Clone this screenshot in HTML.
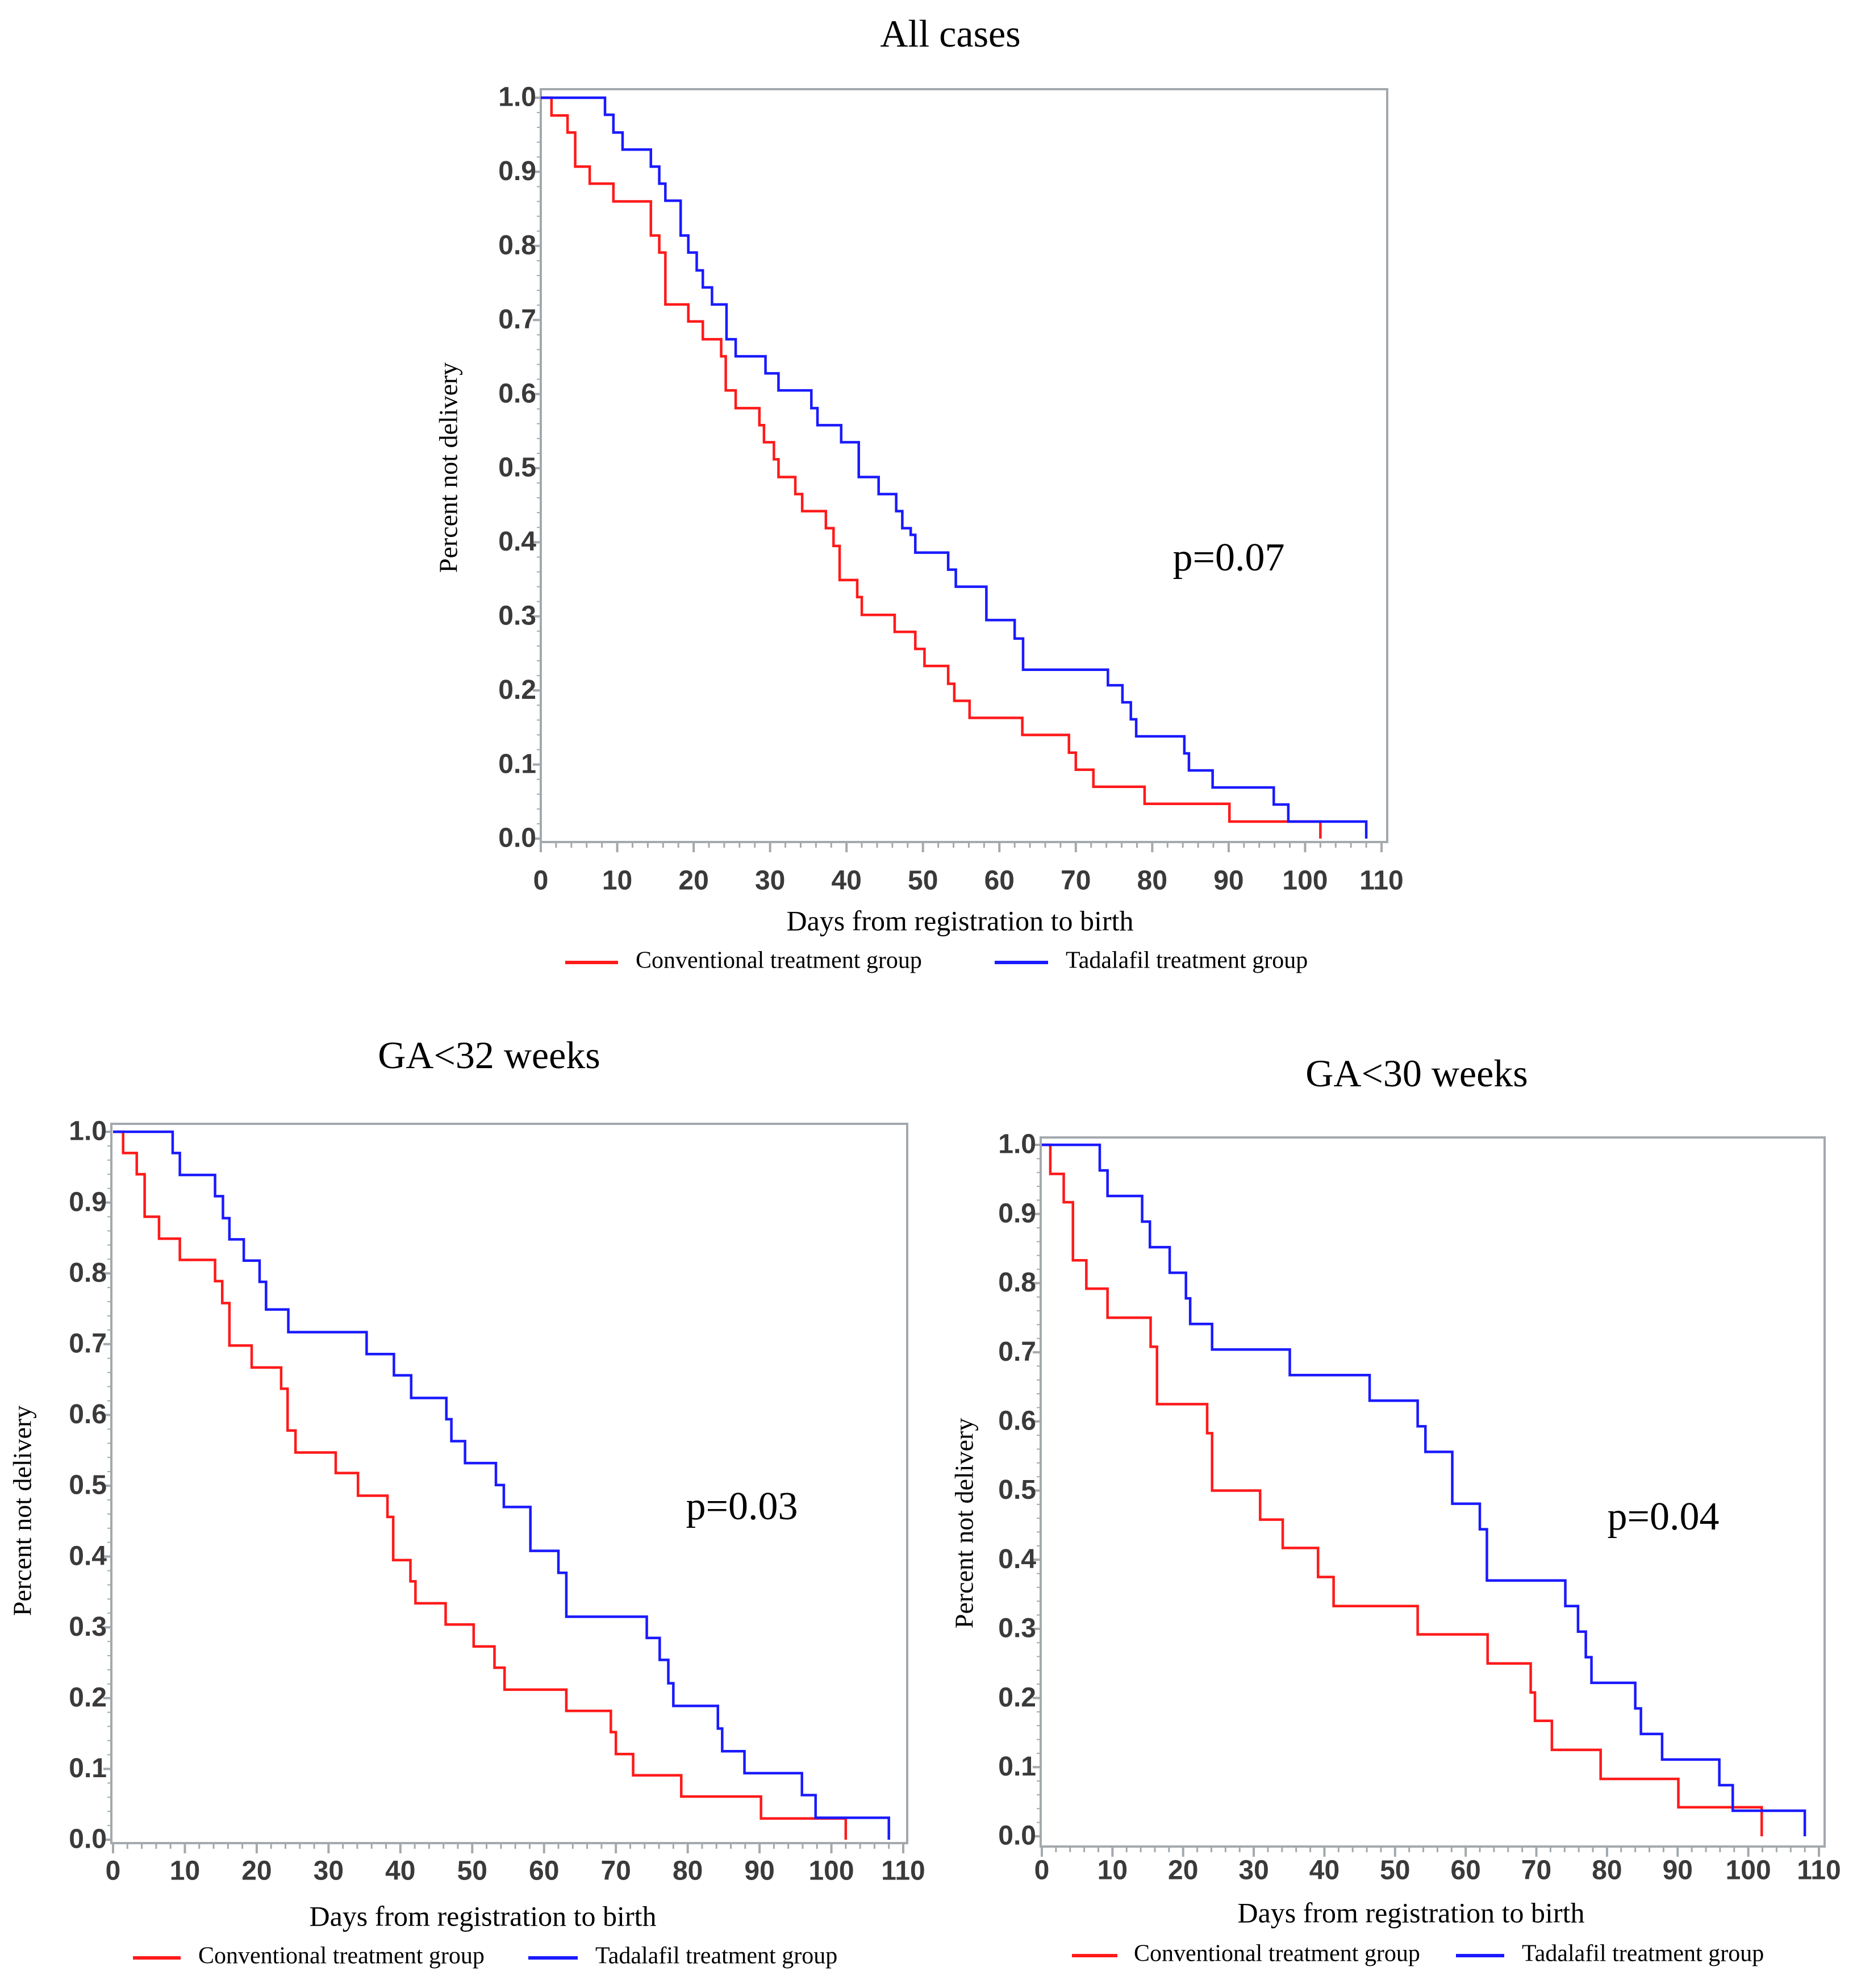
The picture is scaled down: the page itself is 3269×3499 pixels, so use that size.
<!DOCTYPE html>
<html><head><meta charset="utf-8"><style>
html,body{margin:0;padding:0;background:#fff;}
svg{display:block;}
.tick{font-family:"Liberation Sans",Arial,sans-serif;font-size:48px;fill:#3a3a3a;font-weight:bold;}
.ser{font-family:"Liberation Serif","Times New Roman",serif;fill:#000;}
</style></head><body>
<svg id="root" xmlns="http://www.w3.org/2000/svg" width="3269" height="3499" viewBox="0 0 3269 3499">
<rect width="3269" height="3499" fill="#fff"/>
</svg>
<script>
// ---- data ----
const xTicks = [0,10,20,30,40,50,60,70,80,90,100,110];
const yTicks = [0.0,0.1,0.2,0.3,0.4,0.5,0.6,0.7,0.8,0.9,1.0];

const allRedT = [1.4,3.5,4.5,6.4,9.5,14.4,15.5,16.3,19.3,21.2,23.6,24.2,25.5,28.6,29.2,30.5,31.1,33.3,34.2,37.3,38.3,39.1,41.4,42,46.3,49,50.2,53.3,54.1,56.1,63,69.1,70,72.3,79,90.1,102];
const allRedV = [0.976,0.953,0.907,0.884,0.860,0.814,0.791,0.721,0.698,0.674,0.651,0.605,0.581,0.558,0.535,0.512,0.488,0.465,0.442,0.419,0.395,0.349,0.326,0.302,0.279,0.256,0.233,0.209,0.186,0.163,0.140,0.116,0.093,0.070,0.047,0.023,0];
const allBlueT = [8.4,9.5,10.7,14.4,15.5,16.3,18.3,19.3,20.4,21.2,22.4,24.3,25.5,29.4,31.1,35.4,36.2,39.3,41.6,44.2,46.5,47.3,48.4,49,53.3,54.3,58.3,62,63.1,74.2,76.1,77.2,77.9,84.2,84.8,87.9,95.9,97.8,108];
const allBlueV = [0.977,0.953,0.930,0.907,0.884,0.861,0.814,0.791,0.767,0.744,0.721,0.674,0.651,0.628,0.605,0.581,0.558,0.535,0.488,0.465,0.442,0.419,0.410,0.386,0.363,0.340,0.295,0.270,0.228,0.207,0.184,0.161,0.138,0.115,0.092,0.069,0.046,0.023,0];

const g32RedT = [1.4,3.3,4.4,6.4,9.3,14.2,15.2,16.2,19.3,23.4,24.3,25.4,31,34.1,38.2,39,41.4,42.1,46.3,50.2,53.1,54.5,63.1,69.3,70,72.4,79.1,90.2,102];
const g32RedV = [0.970,0.940,0.880,0.849,0.819,0.789,0.758,0.698,0.667,0.637,0.578,0.547,0.518,0.486,0.456,0.395,0.365,0.334,0.304,0.273,0.243,0.212,0.182,0.152,0.121,0.091,0.061,0.030,0];
const g32BlueT = [8.3,9.3,14.2,15.3,16.2,18.2,20.4,21.3,24.4,35.3,39.1,41.5,46.4,47.1,49,53.3,54.4,58.1,62,63.1,74.3,76.1,77.3,78,84.2,84.8,87.9,95.9,97.8,108];
const g32BlueV = [0.970,0.939,0.909,0.878,0.848,0.818,0.788,0.749,0.717,0.686,0.656,0.624,0.594,0.563,0.532,0.501,0.470,0.408,0.377,0.315,0.285,0.254,0.221,0.189,0.157,0.125,0.094,0.063,0.031,0];

const g30RedT = [1.2,3.1,4.4,6.3,9.3,15.4,16.3,23.4,24.1,30.9,34.1,39.1,41.3,53.2,63.1,69.2,69.8,72.2,79.1,90.1,101.9];
const g30RedV = [0.958,0.917,0.833,0.792,0.750,0.708,0.625,0.583,0.500,0.458,0.417,0.375,0.333,0.292,0.250,0.208,0.167,0.125,0.083,0.042,0];
const g30BlueT = [8.2,9.3,14.2,15.3,18.1,20.4,21,24.1,35.1,46.4,53.2,54.3,58.1,62,63,74.1,75.9,77,77.8,84,84.8,87.8,95.9,97.8,108];
const g30BlueV = [0.963,0.926,0.889,0.852,0.815,0.778,0.741,0.704,0.667,0.630,0.593,0.556,0.481,0.444,0.370,0.333,0.296,0.259,0.222,0.185,0.148,0.111,0.074,0.037,0];

// ---- drawing ----
const NS = "http://www.w3.org/2000/svg";
const root = document.getElementById('root');
function mk(tag, attrs, parent, text){
  const e = document.createElementNS(NS, tag);
  for (const k in attrs) e.setAttribute(k, attrs[k]);
  if (text !== undefined) e.textContent = text;
  (parent||root).appendChild(e);
  return e;
}
function chart(c){
  const g = mk('g', {});
  
  
  const sx = d => c.x0 + (c.x1 - c.x0) * d / 110;
  const sy = v => c.y0 + (c.y1 - c.y0) * v;
  const t = mk('text', {x:c.tx, y:c.ty, class:'ser', 'font-size':68, 'text-anchor':'middle'}, g, c.title);
  
  
  const fr = mk('rect', {x:c.fl, y:c.ft, width:c.fr-c.fl, height:c.fb-c.ft, fill:'none', stroke:'#a3a9ad', 'stroke-width':4}, g);
  
  
  for (let d=0; d<=110; d+=2){
    const major = d%10===0;
    const l = mk('line', {x1:sx(d), x2:sx(d), y1:c.fb, y2:c.fb+(major?18:10), stroke:'#a3a9ad', 'stroke-width':major?4:3}, g);
    
    
  }
  for (let i=0; i<=50; i++){
    const v=i/50, major = i%5===0;
    const l = mk('line', {x1:c.fl-(major?14:7), x2:c.fl, y1:sy(v), y2:sy(v), stroke:'#a3a9ad', 'stroke-width':major?4:2}, g);
    
    
  }
  xTicks.forEach(d=>{
    const e = mk('text', {x:sx(d), y:c.xly, class:'tick', 'text-anchor':'middle', 'dominant-baseline':'middle'}, g, String(d));
    
    
  });
  yTicks.forEach(v=>{
    const e = mk('text', {x:c.fl-8, y:sy(v)+2, class:'tick', 'text-anchor':'end', 'dominant-baseline':'middle'}, g, v.toFixed(1));
    
    
  });
  const xt = mk('text', {x:c.xtx, y:c.xty, class:'ser', 'font-size':50, 'text-anchor':'middle', 'dominant-baseline':'middle'}, g, 'Days from registration to birth');
  
  
  const yt = mk('text', {x:0, y:0, class:'ser', 'font-size':46, 'text-anchor':'middle', 'dominant-baseline':'middle', transform:`translate(${c.ytx},${c.yty}) rotate(-90)`}, g, 'Percent not delivery');
  
  
  const pv = mk('text', {x:c.px, y:c.py, class:'ser', 'font-size':70, 'text-anchor':'middle', 'dominant-baseline':'middle'}, g, c.p);
  
  
  function series(T, V, col, nm){
    let d = `M${sx(0)},${sy(1)}`;
    for (let i=0;i<T.length;i++){ d += ` H${sx(T[i])} V${sy(V[i])}`; }
    const p = mk('path', {d:d, fill:'none', stroke:col, 'stroke-width':4.5}, g);
    
    
  }
  series(c.rT, c.rV, '#ff1a1a', 'conventional-curve');
  series(c.bT, c.bV, '#1a1aff', 'tadalafil-curve');
  const l1 = mk('line', {x1:c.lr[0], x2:c.lr[1], y1:c.ly, y2:c.ly, stroke:'#ff1a1a', 'stroke-width':6}, g);
  
  
  const lt1 = mk('text', {x:c.lr[2], y:c.ly, class:'ser', 'font-size':42, 'dominant-baseline':'middle'}, g, 'Conventional treatment group');
  
  
  const l2 = mk('line', {x1:c.lb[0], x2:c.lb[1], y1:c.ly, y2:c.ly, stroke:'#1a1aff', 'stroke-width':6}, g);
  
  
  const lt2 = mk('text', {x:c.lb[2], y:c.ly, class:'ser', 'font-size':42, 'dominant-baseline':'middle'}, g, 'Tadalafil treatment group');
  
  
}
chart({name:'chart-all-cases', title:'All cases', tx:1673, ty:82,
  fl:952, fr:2442, ft:157, fb:1482, x0:952, x1:2432, y0:1476, y1:172,
  xly:1553, xtx:1690, xty:1626, ytx:794, yty:823, px:2163, py:988, p:'p=0.07',
  rT:allRedT, rV:allRedV, bT:allBlueT, bV:allBlueV,
  ly:1694, lr:[995,1088,1119], lb:[1751,1845,1876]});
chart({name:'chart-ga-lt-32', title:'GA<32 weeks', tx:861, ty:1880,
  fl:196, fr:1597, ft:1978, fb:3244, x0:199, x1:1590, y0:3238, y1:1992,
  xly:3296, xtx:850, xty:3378, ytx:44, yty:2659, px:1306, py:2658, p:'p=0.03',
  rT:g32RedT, rV:g32RedV, bT:g32BlueT, bV:g32BlueV,
  ly:3446, lr:[234,318,349], lb:[930,1017,1048]});
chart({name:'chart-ga-lt-30', title:'GA<30 weeks', tx:2494, ty:1912,
  fl:1832, fr:3212, ft:2002, fb:3250, x0:1834, x1:3202, y0:3232, y1:2015,
  xly:3295, xtx:2484, xty:3372, ytx:1702, yty:2681, px:2928, py:2676, p:'p=0.04',
  rT:g30RedT, rV:g30RedV, bT:g30BlueT, bV:g30BlueV,
  ly:3442, lr:[1887,1967,1996], lb:[2563,2648,2679]});
</script>
</body></html>
